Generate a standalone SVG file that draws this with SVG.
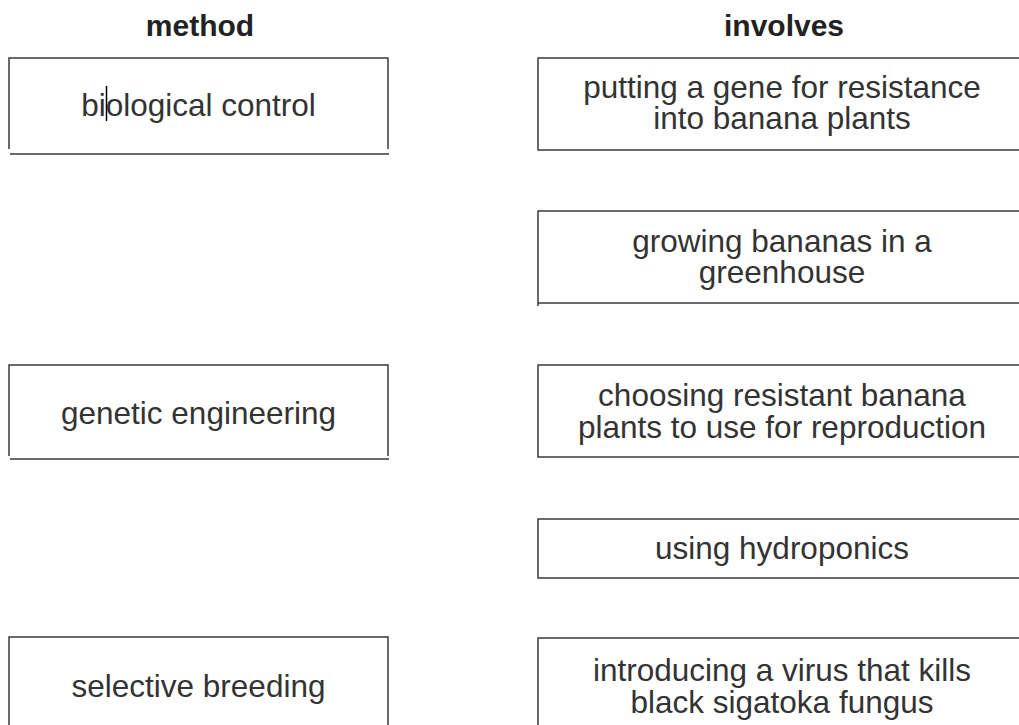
<svg xmlns="http://www.w3.org/2000/svg" width="1019" height="725" viewBox="0 0 1019 725">
<style>
.bg{fill:#ffffff}
.box{fill:none;stroke:#3a3a3a;stroke-width:1.5}
.hdr{font-family:"Liberation Sans",Arial,sans-serif;font-weight:bold;font-size:30px;fill:#222222;text-anchor:middle}
.t{font-family:"Liberation Sans",Arial,sans-serif;font-size:31.5px;fill:#333333;text-anchor:middle}
</style>
<rect class="bg" x="0" y="0" width="1019" height="725"/>
<g id="headers">
<text class="hdr" x="200" y="36">method</text>
<text class="hdr" x="784" y="36">involves</text>
</g>
<g id="method-biological-control">
<path class="box" d="M9 149 V58 H388 V149 M10 154 H389"/>
<text class="t" x="198.5" y="116">biological control</text>
<line x1="106.5" y1="86" x2="106.5" y2="121" stroke="#000000" stroke-width="1.5"/>
</g>
<g id="method-genetic-engineering">
<path class="box" d="M9 456 V365 H388 V456 M10 459 H389"/>
<text class="t" x="198.5" y="424">genetic engineering</text>
</g>
<g id="method-selective-breeding">
<path class="box" d="M9 730 V637 H388 V730"/>
<text class="t" x="198.5" y="697">selective breeding</text>
</g>
<g id="involves-gene">
<rect class="box" x="538" y="58" width="492" height="92"/>
<text class="t" x="782" y="98">putting a gene for resistance</text>
<text class="t" x="782" y="129">into banana plants</text>
</g>
<g id="involves-greenhouse">
<path class="box" d="M538 306 V211 H1030 M538 303 H1030"/>
<text class="t" x="782" y="252">growing bananas in a</text>
<text class="t" x="782" y="283">greenhouse</text>
</g>
<g id="involves-choosing">
<rect class="box" x="538" y="365" width="492" height="92"/>
<text class="t" x="782" y="406">choosing resistant banana</text>
<text class="t" x="782" y="438">plants to use for reproduction</text>
</g>
<g id="involves-hydroponics">
<rect class="box" x="538" y="519" width="492" height="59"/>
<text class="t" x="782" y="559">using hydroponics</text>
</g>
<g id="involves-virus">
<path class="box" d="M538 730 V638 H1030"/>
<text class="t" x="782" y="681">introducing a virus that kills</text>
<text class="t" x="782" y="713">black sigatoka fungus</text>
</g>
<g id="connectors"></g>
</svg>
